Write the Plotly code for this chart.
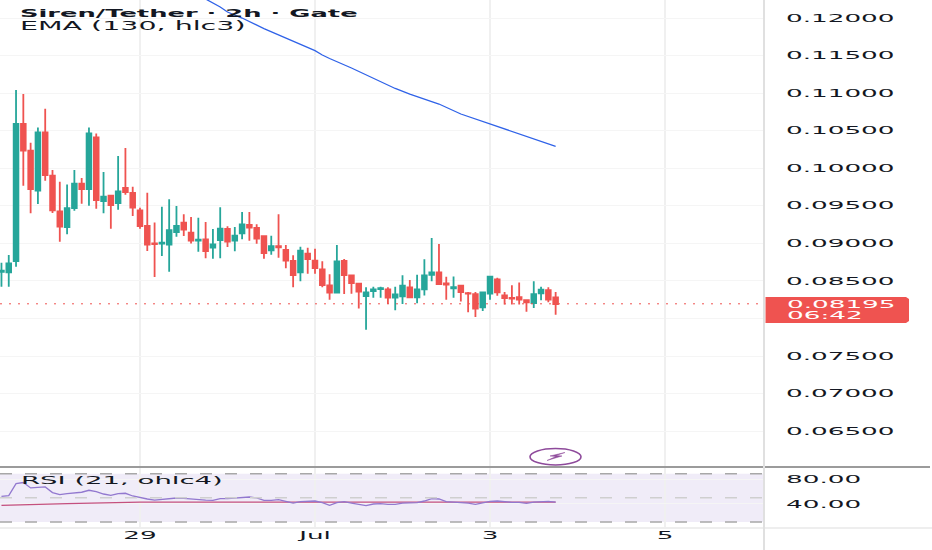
import pandas as pd
import plotly.graph_objects as go
from plotly.subplots import make_subplots

# 2h candles, Jun 27 10:00 to Jul 3 18:00
candle_time = pd.date_range("2025-06-27 10:00", periods=77, freq="2h")

candle_open = [
    .08622, .08614, .08764, .10589, .10234, .09701, .10478, .09901, .09426, .09217,
    .09470, .09794, .09723, .10411, .09563, .09634, .09537, .09737, .09670, .09439,
    .09231, .08999, .08995, .08982, .09151, .09275, .09142, .09035, .09053, .08942,
    .09044, .09191, .09035, .09133, .09244, .09204, .09097, .08907, .08964, .08911,
    .08765, .08614, .08862, .08769, .08654, .08441, .08343, .08765, .08574, .08463,
    .08298, .08365, .08392, .08387, .08276, .08294, .08414, .08281, .08387, .08582,
    .08614, .08467, .08400, .08436, .08338, .08325, .08148, .08330, .08520, .08307,
    .08272, .08285, .08245, .08205, .08334, .08378, .08281,
]
candle_high = [
    .08742, .08844, .11042, .10988, .10340, .10544, .10793, .09976, .09821, .09785,
    .09976, .09870, .10544, .10464, .09950, .09643, .10163, .10269, .09754, .09475,
    .09674, .09279, .09488, .09586, .09497, .09386, .09350, .09342, .09284, .09191,
    .09479, .09226, .09217, .09417, .09417, .09253, .09102, .09102, .09386, .08978,
    .08840, .08955, .08942, .08929, .08760, .08587, .08978, .08791, .08583, .08467,
    .08414, .08423, .08423, .08414, .08423, .08574, .08511, .08582, .08787, .09071,
    .08991, .08556, .08560, .08436, .08352, .08352, .08347, .08560, .08543, .08352,
    .08441, .08480, .08250, .08494, .08423, .08414, .08352,
]
candle_low = [
    .08423, .08423, .08689, .09768, .09399, .09523, .09834, .09404, .09022, .09120,
    .09435, .09528, .09501, .09461, .09399, .09195, .09448, .09648, .09364, .09195,
    .08898, .08551, .08831, .08622, .09089, .09097, .08999, .08889, .08800, .08796,
    .08800, .08951, .08893, .09053, .09035, .08995, .08796, .08849, .08809, .08667,
    .08414, .08494, .08596, .08596, .08414, .08250, .08340, .08325, .08330, .08134,
    .07850, .08276, .08276, .08192, .08108, .08192, .08276, .08201, .08307, .08494,
    .08454, .08250, .08276, .08227, .08081, .08019, .08099, .08250, .08303, .08187,
    .08187, .08187, .08090, .08139, .08241, .08214, .08050,
]
candle_close = [
    .08636, .08733, .10589, .10234, .09723, .10478, .09910, .09439, .09222, .09470,
    .09794, .09723, .10464, .09577, .09621, .09510, .09692, .09683, .09475, .09231,
    .08982, .08991, .09009, .09177, .09231, .09182, .09035, .09049, .08898, .08986,
    .09195, .09022, .09102, .09253, .09208, .09062, .08871, .08964, .08947, .08769,
    .08578, .08902, .08791, .08671, .08445, .08343, .08760, .08578, .08472, .08356,
    .08347, .08387, .08405, .08276, .08321, .08436, .08281, .08387, .08574, .08614,
    .08458, .08449, .08418, .08352, .08330, .08130, .08347, .08556, .08347, .08272,
    .08263, .08250, .08214, .08325, .08383, .08250, .08192,
]

ema_time = pd.to_datetime([
    "2025-06-29 18:00", "2025-06-29 22:00", "2025-06-30 00:00", "2025-06-30 04:00",
    "2025-06-30 10:00", "2025-06-30 16:00", "2025-07-01 00:00", "2025-07-01 02:00",
    "2025-07-01 04:00", "2025-07-01 10:00", "2025-07-01 16:00", "2025-07-01 22:00",
    "2025-07-02 02:00", "2025-07-02 08:00", "2025-07-02 10:00", "2025-07-02 16:00",
    "2025-07-03 00:00", "2025-07-03 08:00", "2025-07-03 14:00", "2025-07-03 18:00",
])
ema_value = [
    .12253, .12147, .12080, .12000, .11860, .11734, .11565, .11508, .11461, .11335,
    .11195, .11062, .10988, .10889, .10855, .10722, .10589, .10462, .10362, .10292,
]

rsi_value = [
    52.5, 53.7, 73.6, 75.3, 66.4, 67.0, 68.0, 58.7, 55.3, 57.0,
    58.0, 59.2, 62.5, 60.3, 56.3, 54.2, 57.0, 57.5, 53.0, 50.3,
    48.0, 46.3, 47.5, 48.0, 49.7, 49.2, 48.0, 47.5, 46.3, 45.8,
    48.7, 48.7, 49.2, 50.8, 51.3, 49.7, 45.8, 45.8, 47.0, 44.2,
    41.3, 43.7, 44.7, 44.7, 42.0, 37.5, 42.0, 43.7, 41.3, 39.2,
    37.0, 39.7, 40.3, 39.2, 39.2, 41.3, 41.3, 42.0, 44.7, 48.7,
    48.0, 43.7, 43.0, 42.5, 41.3, 39.2, 42.0, 44.2, 44.7, 43.0,
    42.5, 42.5, 40.8, 43.0, 44.2, 44.2, 43.0,
]
rsi_ma_time = pd.to_datetime([
    "2025-06-27 10:00", "2025-06-28 04:00", "2025-06-29 00:00", "2025-06-29 20:00",
    "2025-07-01 00:00", "2025-07-02 08:00", "2025-07-03 18:00",
])
rsi_ma_value = [37.3, 40.5, 42.8, 43.0, 43.2, 43.0, 42.9]

# 0.08 has no label in the picture, the price tag sits on it
price_ticks = [.065, .07, .075, .085, .09, .095, .10, .105, .11, .115, .12]
rsi_ticks = [40, 80]
day_ticks = ["2025-06-29", "2025-07-01", "2025-07-03", "2025-07-05"]
day_labels = ["29", "Jul", "3", "5"]
last_price = 0.08195

GREEN = "#26a69a"
RED = "#ef5350"
TEXT = "#131722"
FONT = "DejaVu Sans"
GRID = "#f5f5f5"

fig = make_subplots(rows=2, cols=1, shared_xaxes=True, vertical_spacing=0,
                    row_heights=[467, 61])

fig.add_trace(go.Candlestick(
    x=candle_time, open=candle_open, high=candle_high, low=candle_low, close=candle_close,
    increasing=dict(line=dict(color=GREEN, width=1.8), fillcolor=GREEN),
    decreasing=dict(line=dict(color=RED, width=1.8), fillcolor=RED),
), row=1, col=1)
fig.add_trace(go.Scatter(x=ema_time, y=ema_value, mode="lines",
                         line=dict(color="#2f62e8", width=1.3)), row=1, col=1)
fig.add_trace(go.Scatter(x=rsi_ma_time, y=rsi_ma_value, mode="lines",
                         line=dict(color="#c4507f", width=1.2)), row=2, col=1)
fig.add_trace(go.Scatter(x=candle_time, y=rsi_value, mode="lines",
                         line=dict(color="#9278cf", width=1.3)), row=2, col=1)

# RSI band
fig.add_hrect(y0=10, y1=90, fillcolor="#f0ecf8", line_width=0, layer="below", row=2, col=1)
for level, color in [(90, "#a8a8a8"), (50, "#cfcfcf"), (10, "#a8a8a8")]:
    fig.add_hline(y=level, line=dict(color=color, width=1.5, dash="12px,13px"), row=2, col=1)

fig.add_hline(y=0.08, line=dict(color=GRID, width=1), layer="below", row=1, col=1)
# last price line
fig.add_hline(y=last_price, line=dict(color=RED, width=1, dash="2px,7px"), row=1, col=1)


def px_x(p):
    return p / 764


def px_y(p):
    return (528 - p) / 528


# separators and price axis line
fig.add_shape(type="line", xref="paper", yref="paper", x0=0, x1=px_x(930), y0=px_y(467), y1=px_y(467),
              line=dict(color="#9b9b9b", width=2))
fig.add_shape(type="line", xref="paper", yref="paper", x0=0, x1=px_x(932), y0=px_y(528), y1=px_y(528),
              line=dict(color="#eeeeee", width=2))
fig.add_shape(type="line", xref="paper", yref="paper", x0=1, x1=1, y0=px_y(550), y1=1,
              line=dict(color="#e0e0e0", width=2))

# lightning badge
fig.add_shape(type="circle", xref="paper", yref="paper",
              x0=px_x(530), x1=px_x(581), y0=px_y(465), y1=px_y(448.5),
              line=dict(color="#8e4a9b", width=1.6))
bolt = [(565, 452.5), (550, 456), (556, 456.5), (547, 460.5), (562, 456), (556, 455.5)]
bolt_path = "M " + " L ".join(f"{px_x(a):.4f},{px_y(b):.4f}" for a, b in bolt) + " Z"
fig.add_shape(type="path", xref="paper", yref="paper", path=bolt_path,
              fillcolor="#8e4a9b", line=dict(color="#8e4a9b", width=0.5))

# price tag, rounded on the right
tag = [(765.5, 297), (906, 297), (909, 299), (909, 321), (906, 323), (765.5, 323)]
tag_path = "M " + " L ".join(f"{px_x(a):.4f},{px_y(b):.4f}" for a, b in tag) + " Z"
fig.add_shape(type="path", xref="paper", yref="paper", path=tag_path, fillcolor=RED, line_width=0)


def label(text, x, y, size, color=TEXT):
    fig.add_annotation(text=text, xref="paper", yref="paper", x=px_x(x), y=px_y(y),
                       xanchor="left", yanchor="middle", align="left", showarrow=False,
                       font=dict(family=FONT, size=size, color=color))


label("<b>Siren/Tether · 2h · Gate</b>", 18, 12.5, 10.3)
label("EMA (130, hlc3)", 18, 26, 11.4)
label("RSI (21, ohlc4)", 19, 480, 11)
label("0.08195", 785, 304, 10.5, "white")
label("06:42", 785, 315, 10.5, "white")

fig.update_xaxes(range=["2025-06-27 09:36", "2025-07-06 03:09"], showgrid=True, gridcolor="#f0f0f0",
                 gridwidth=2, tickvals=day_ticks, ticktext=day_labels, rangeslider_visible=False,
                 showline=False, zeroline=False, ticks="",
                 tickfont=dict(family=FONT, size=10.5, color=TEXT))
fig.update_yaxes(side="right", showline=False, zeroline=False, ticks="", ticklabelstandoff=21,
                 tickfont=dict(family=FONT, size=10.5, color=TEXT), gridcolor=GRID, gridwidth=1)
fig.update_yaxes(range=[0.06022, 0.1224], tickvals=price_ticks, tickformat=".5f", row=1, col=1)
fig.update_yaxes(range=[0, 101], tickvals=rsi_ticks, tickformat=".2f", row=2, col=1)

fig.update_layout(width=932, height=550, margin=dict(l=0, r=168, t=0, b=22), showlegend=False,
                  plot_bgcolor="white", paper_bgcolor="white", boxgap=0.08)

# the reference picture is stretched sideways, so widen the text the same way
stretch_js = """
document.body.style.margin = '0';
var gd = document.getElementById('{plot_id}');
function stretchText() {
  gd.querySelectorAll('.xtick text, .ytick text, .x2tick text, .y2tick text, .annotation-text').forEach(function (t) {
    var old = t.getAttribute('transform') || '';
    if (old.indexOf('scale(') >= 0) return;
    var cx = parseFloat(t.getAttribute('x')) || 0;
    t.setAttribute('transform', old + ' translate(' + cx + ' 0) scale(2.5 1) translate(' + (-cx) + ' 0)');
  });
}
stretchText();
gd.on('plotly_afterplot', stretchText);
"""

fig.write_html("out.html", post_script=stretch_js, config={"displayModeBar": False})
